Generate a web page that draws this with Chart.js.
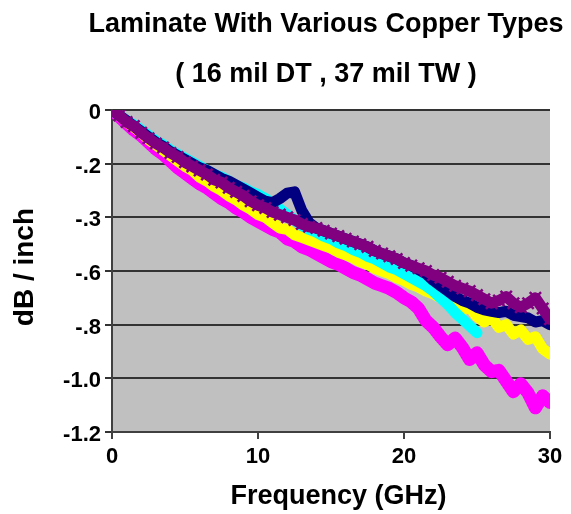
<!DOCTYPE html>
<html>
<head>
<meta charset="utf-8">
<script src="https://cdn.jsdelivr.net/npm/chart.js@4.4.0/dist/chart.umd.min.js"></script>
<style>
  html, body { margin: 0; padding: 0; background: #fff; }
</style>
</head>
<body>
<canvas id="loss-chart" width="571" height="514"></canvas>
<script>
// frequency points (GHz)
const freqGHz = [0, 0.5, 1, 1.5, 2, 2.5, 3, 3.5, 4, 4.5, 5, 5.5, 6, 6.5, 7, 7.5, 8, 8.5, 9, 9.5,
  10, 10.5, 11, 11.5, 12, 12.5, 13, 13.5, 14, 14.5, 15, 15.5, 16, 16.5, 17, 17.5, 18, 18.5, 19, 19.5,
  20, 20.5, 21, 21.5, 22, 22.5, 23, 23.5, 24, 24.5, 25, 25.5, 26, 26.5, 27, 27.5, 28, 28.5, 29, 29.5, 30];

// dB / inch
const purpleLoss = [0, -0.02, -0.045, -0.06, -0.085, -0.105, -0.125, -0.14, -0.16, -0.175, -0.195, -0.21, -0.225, -0.24, -0.26, -0.27, -0.29, -0.305, -0.32, -0.34,
  -0.355, -0.365, -0.38, -0.39, -0.4, -0.41, -0.425, -0.435, -0.44, -0.45, -0.46, -0.47, -0.48, -0.49, -0.5, -0.51, -0.525, -0.535, -0.545, -0.555,
  -0.57, -0.58, -0.59, -0.6, -0.615, -0.625, -0.64, -0.655, -0.665, -0.675, -0.69, -0.705, -0.72, -0.71, -0.695, -0.72, -0.735, -0.72, -0.7, -0.74, -0.78];
const navyLoss = [0, -0.02, -0.04, -0.06, -0.08, -0.1, -0.12, -0.135, -0.155, -0.17, -0.185, -0.2, -0.215, -0.225, -0.24, -0.255, -0.265, -0.28, -0.295, -0.31,
  -0.325, -0.34, -0.345, -0.33, -0.31, -0.305, -0.375, -0.42, -0.44, -0.45, -0.46, -0.47, -0.48, -0.49, -0.5, -0.51, -0.525, -0.535, -0.545, -0.555,
  -0.57, -0.58, -0.595, -0.61, -0.635, -0.655, -0.675, -0.695, -0.71, -0.72, -0.735, -0.745, -0.75, -0.755, -0.75, -0.765, -0.77, -0.775, -0.79, -0.785, -0.8];
const cyanLoss = [0, -0.02, -0.04, -0.055, -0.075, -0.095, -0.115, -0.13, -0.15, -0.165, -0.18, -0.195, -0.21, -0.225, -0.24, -0.25, -0.265, -0.28, -0.29, -0.305,
  -0.315, -0.33, -0.35, -0.37, -0.39, -0.41, -0.43, -0.445, -0.455, -0.47, -0.48, -0.495, -0.505, -0.52, -0.53, -0.545, -0.555, -0.57, -0.585, -0.595,
  -0.61, -0.625, -0.64, -0.655, -0.675, -0.7, -0.725, -0.755, -0.78, -0.805, -0.83, null, null, null, null, null, null, null, null, null, null];
const yellowLoss = [0, -0.02, -0.045, -0.065, -0.085, -0.11, -0.13, -0.15, -0.17, -0.19, -0.21, -0.225, -0.25, -0.265, -0.285, -0.3, -0.32, -0.335, -0.355, -0.37,
  -0.39, -0.4, -0.42, -0.44, -0.445, -0.465, -0.475, -0.485, -0.495, -0.505, -0.515, -0.53, -0.54, -0.55, -0.565, -0.575, -0.59, -0.6, -0.61, -0.625,
  -0.635, -0.65, -0.66, -0.675, -0.685, -0.7, -0.69, -0.725, -0.745, -0.735, -0.77, -0.79, -0.775, -0.81, -0.8, -0.835, -0.82, -0.855, -0.845, -0.89, -0.91];
const magentaLoss = [0, -0.025, -0.05, -0.075, -0.095, -0.12, -0.145, -0.165, -0.19, -0.215, -0.235, -0.255, -0.275, -0.29, -0.31, -0.33, -0.345, -0.365, -0.38, -0.4,
  -0.415, -0.43, -0.445, -0.455, -0.48, -0.49, -0.51, -0.52, -0.535, -0.55, -0.565, -0.575, -0.59, -0.605, -0.615, -0.63, -0.645, -0.655, -0.665, -0.68,
  -0.7, -0.715, -0.74, -0.785, -0.81, -0.845, -0.875, -0.85, -0.885, -0.93, -0.905, -0.95, -0.975, -0.97, -1.01, -1.05, -1.02, -1.055, -1.11, -1.065, -1.09];

// y ticks as printed on the original (note the "-.3")
const yTickValues = [0, -0.2, -0.4, -0.6, -0.8, -1.0, -1.2];
const yTickLabels = ["0", "-.2", "-.3", "-.6", "-.8", "-1.0", "-1.2"];
const xTickValues = [0, 10, 20, 30];

const titleLines = ["Laminate With Various Copper Types", "( 16 mil DT , 37 mil TW )"];
const fontFamily = "'Liberation Sans', Arial, sans-serif";

function toPoints(values) {
  return freqGHz.map((f, i) => ({ x: f, y: values[i] }));
}

function lossSeries(values, color, width, marker) {
  return {
    data: toPoints(values),
    borderColor: color,
    backgroundColor: color,
    borderWidth: width,
    pointStyle: marker || "circle",
    pointRadius: marker ? 8 : 0,
    pointBorderWidth: 2.5,
    pointBorderColor: color,
    tension: 0,
    spanGaps: false,
    borderJoinStyle: "round",
    borderCapStyle: "round",
  };
}

const plotBackground = {
  id: "plotBackground",
  beforeDraw(chart) {
    const { ctx, chartArea } = chart;
    ctx.save();
    ctx.fillStyle = "#c0c0c0";
    ctx.fillRect(chartArea.left, chartArea.top, chartArea.right - chartArea.left, chartArea.bottom - chartArea.top);
    ctx.restore();
  },
};

// two title lines, centred a bit right of the canvas middle like the original
const headerText = {
  id: "headerText",
  afterDraw(chart) {
    const ctx = chart.ctx;
    ctx.save();
    ctx.fillStyle = "#000";
    ctx.textAlign = "center";
    ctx.textBaseline = "middle";
    ctx.font = "bold 27px " + fontFamily;
    ctx.fillText(titleLines[0], 326, 25);
    ctx.fillText(titleLines[1], 326, 75);
    ctx.restore();
  },
};

const boldFont = (size) => ({ family: fontFamily, size: size, weight: "bold" });

const lossChart = new Chart(document.getElementById("loss-chart"), {
  type: "line",
  data: {
    datasets: [
      lossSeries(purpleLoss, "#800080", 11, "crossRot"),
      lossSeries(navyLoss, "#000080", 11),
      lossSeries(cyanLoss, "#00ffff", 11),
      lossSeries(yellowLoss, "#ffff00", 11),
      lossSeries(magentaLoss, "#ff00ff", 13),
    ],
  },
  options: {
    responsive: false,
    animation: false,
    layout: { padding: { left: 0, right: 21, top: 110, bottom: 0 } },
    plugins: {
      legend: { display: false },
      tooltip: { enabled: false },
    },
    scales: {
      x: {
        type: "linear",
        min: 0,
        max: 30,
        afterBuildTicks: (scale) => {
          scale.ticks = xTickValues.map((v) => ({ value: v }));
        },
        afterFit: (scale) => {
          scale.height = 82;
        },
        ticks: { color: "#000", font: boldFont(22), padding: 5, maxRotation: 0 },
        grid: { drawOnChartArea: false, drawTicks: true, tickLength: 7, color: "#404040", lineWidth: 2 },
        border: { display: true, color: "#404040", width: 2 },
        title: {
          display: true,
          text: "  Frequency (GHz)",
          color: "#000",
          font: boldFont(27),
          padding: { top: 0, bottom: 1 },
        },
      },
      y: {
        type: "linear",
        min: -1.2,
        max: 0,
        afterBuildTicks: (scale) => {
          scale.ticks = yTickValues.map((v) => ({ value: v }));
        },
        afterFit: (scale) => {
          scale.width = 112;
        },
        ticks: {
          color: "#000",
          font: boldFont(22),
          padding: 4,
          labelOffset: 3,
          callback: (value) => {
            const i = yTickValues.findIndex((v) => Math.abs(v - value) < 1e-6);
            return i >= 0 ? yTickLabels[i] : "";
          },
        },
        grid: { color: "#333333", lineWidth: 2, tickLength: 7 },
        border: { display: true, color: "#404040", width: 2 },
        title: {
          display: true,
          text: " dB / inch",
          color: "#000",
          font: boldFont(28),
          padding: { top: 8, bottom: 0 },
        },
      },
    },
  },
  plugins: [plotBackground, headerText],
});
</script>
</body>
</html>
